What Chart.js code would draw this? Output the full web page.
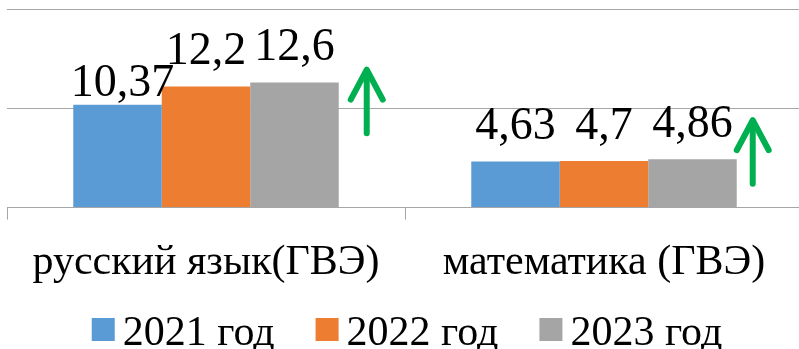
<!DOCTYPE html>
<html>
<head>
<meta charset="utf-8">
<script src="https://cdn.jsdelivr.net/npm/chart.js@4/dist/chart.umd.min.js"></script>
<style>
  html, body { margin: 0; padding: 0; background: #fff; overflow: hidden; }
  #wrap { width: 803px; height: 349px; }
</style>
</head>
<body>
<div id="wrap"><canvas id="myChart"></canvas></div>
<script>
const subjects = ['русский язык(ГВЭ)', 'математика (ГВЭ)'];
const years = ['2021 год', '2022 год', '2023 год'];
const scores2021 = [10.37, 4.63];
const scores2022 = [12.2, 4.7];
const scores2023 = [12.6, 4.86];
const yTicks = [0, 10, 20];

const colors = ['#5b9bd5', '#ed7d31', '#a5a5a5'];
const gridGray = '#a6a6a6';
const serif = '"Liberation Serif", "Times New Roman", serif';

// value labels over each bar, comma as decimal separator
const valueLabels = {
  id: 'valueLabels',
  afterDatasetsDraw(chart, args, opts) {
    const ctx = chart.ctx;
    ctx.save();
    ctx.font = '46px ' + serif;
    ctx.fillStyle = '#000';
    ctx.textAlign = 'center';
    ctx.textBaseline = 'alphabetic';
    chart.data.datasets.forEach((ds, di) => {
      chart.getDatasetMeta(di).data.forEach((bar, i) => {
        const lift = (opts.lift[di] && opts.lift[di][i]) || 22;
        const text = String(ds.data[i]).replace('.', ',');
        ctx.fillText(text, bar.x + (opts.shiftX[di] ? opts.shiftX[di][i] : 0), bar.y - lift);
      });
    });
    ctx.restore();
  }
};

// green "growth" arrows next to each group
const upArrows = {
  id: 'upArrows',
  afterDatasetsDraw(chart, args, opts) {
    const ctx = chart.ctx;
    const y = chart.scales.y;
    const last = chart.getDatasetMeta(chart.data.datasets.length - 1);
    ctx.save();
    ctx.strokeStyle = '#00b050';
    ctx.lineWidth = 6;
    ctx.lineCap = 'round';
    ctx.lineJoin = 'round';
    opts.spans.forEach((s, i) => {
      const bar = last.data[i];
      const x = bar.x + bar.width / 2 + s.dx;
      const y0 = y.getPixelForValue(s.from);
      const y1 = y.getPixelForValue(s.to);
      ctx.beginPath();
      ctx.moveTo(x, y0);
      ctx.lineTo(x, y1 + 2);
      ctx.stroke();
      ctx.beginPath();
      ctx.moveTo(x - 16, y1 + 30);
      ctx.lineTo(x, y1);
      ctx.lineTo(x + 16, y1 + 30);
      ctx.stroke();
    });
    ctx.restore();
  }
};

// legend row with tight spacing between swatch and text
const bottomLegend = {
  id: 'bottomLegend',
  afterDraw(chart, args, opts) {
    const ctx = chart.ctx;
    ctx.save();
    ctx.font = '42px ' + serif;
    ctx.textBaseline = 'alphabetic';
    ctx.textAlign = 'left';
    const box = 23, gap = 8, between = 41;
    const items = chart.data.datasets.map(ds => ({
      label: ds.label, color: ds.backgroundColor, w: ctx.measureText(ds.label).width
    }));
    const total = items.reduce((a, it) => a + box + gap + it.w, 0) + between * (items.length - 1);
    let x = opts.centerX - total / 2;
    items.forEach(it => {
      ctx.fillStyle = it.color;
      ctx.fillRect(x, opts.boxTop, box, box);
      ctx.fillStyle = '#000';
      ctx.fillText(it.label, x + box + gap, opts.baseline);
      x += box + gap + it.w + between;
    });
    ctx.restore();
  }
};

new Chart(document.getElementById('myChart'), {
  type: 'bar',
  data: {
    labels: subjects,
    datasets: [
      { label: years[0], data: scores2021, backgroundColor: colors[0] },
      { label: years[1], data: scores2022, backgroundColor: colors[1] },
      { label: years[2], data: scores2023, backgroundColor: colors[2] }
    ]
  },
  options: {
    responsive: true,
    maintainAspectRatio: false,
    animation: false,
    layout: { padding: { top: 9, left: 7, right: 0, bottom: 43 } },
    datasets: { bar: { categoryPercentage: 0.667, barPercentage: 1, borderWidth: 0 } },
    scales: {
      x: {
        grid: { drawOnChartArea: false, tickLength: 12, color: gridGray, offset: true },
        border: { color: gridGray },
        ticks: { color: '#000', padding: 18, font: { family: serif, size: 42 } }
      },
      y: {
        min: yTicks[0],
        max: yTicks[yTicks.length - 1],
        afterBuildTicks(axis) { axis.ticks = yTicks.map(v => ({ value: v })); },
        ticks: { display: false },
        grid: { color: gridGray, drawTicks: false },
        border: { display: false }
      }
    },
    plugins: {
      legend: { display: false },
      tooltip: { enabled: false },
      valueLabels: {
        lift: [[9, 23], [22, 22], [22, 22]],
        shiftX: [[5, 0], [0, 0], [0, 0]]
      },
      upArrows: {
        spans: [
          { from: 7.5, to: 13.9, dx: 28 },
          { from: 2.4, to: 8.8, dx: 16 }
        ]
      },
      bottomLegend: { centerX: 407, boxTop: 318, baseline: 345 }
    }
  },
  plugins: [valueLabels, upArrows, bottomLegend]
});
</script>
</body>
</html>
